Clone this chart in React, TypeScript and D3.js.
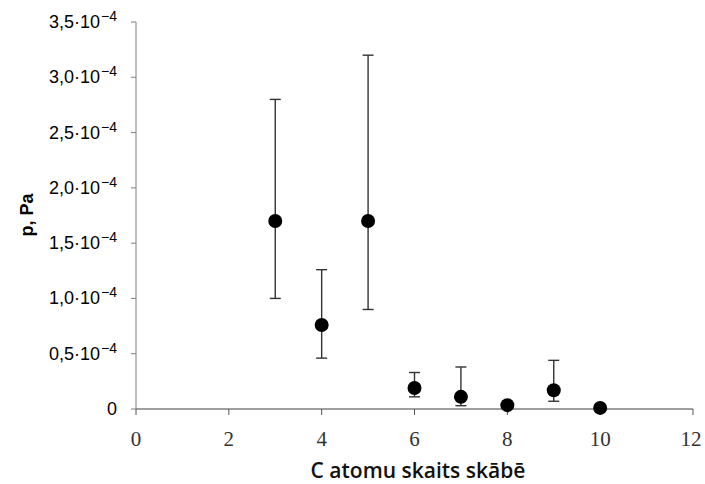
import React, { useEffect, useRef } from "react";
import * as d3 from "d3";

// C atomu skaits, spiediens un kļūdu robežas (Pa)
const carbons = [3, 4, 5, 6, 7, 8, 9, 10];
const pressure = [1.7e-4, 0.76e-4, 1.7e-4, 0.19e-4, 0.11e-4, 0.035e-4, 0.17e-4, 0.01e-4];
const errHigh = [2.8e-4, 1.26e-4, 3.2e-4, 0.33e-4, 0.38e-4, 0.035e-4, 0.44e-4, 0.01e-4];
const errLow = [1.0e-4, 0.46e-4, 0.9e-4, 0.11e-4, 0.03e-4, 0.035e-4, 0.07e-4, 0.01e-4];

const xTicks = [0, 2, 4, 6, 8, 10, 12];
const yTicks = [0, 0.5e-4, 1.0e-4, 1.5e-4, 2.0e-4, 2.5e-4, 3.0e-4, 3.5e-4];
const yTickLabels = ["0", "0,5", "1,0", "1,5", "2,0", "2,5", "3,0", "3,5"];

const App = () => {
  const svgRef = useRef<SVGSVGElement>(null);

  useEffect(() => {
    const svg = d3.select(svgRef.current);
    svg.selectAll("*").remove();

    const x = d3.scaleLinear().domain([0, 12]).range([136, 693]);
    const y = d3.scaleLinear().domain([0, 3.5e-4]).range([409, 22]);
    const axisColor = "#7f7f7f";

    // y ass
    svg.append("line")
      .attr("x1", x(0)).attr("x2", x(0))
      .attr("y1", y(0)).attr("y2", y(3.5e-4))
      .attr("stroke", axisColor).attr("stroke-width", 1);
    yTicks.forEach((t, i) => {
      svg.append("line")
        .attr("x1", x(0) - 5).attr("x2", x(0))
        .attr("y1", y(t)).attr("y2", y(t))
        .attr("stroke", axisColor);
      const txt = svg.append("text")
        .attr("x", 117)
        .attr("y", y(t) + 6)
        .attr("text-anchor", "end")
        .style("font-family", "Liberation Sans, Arial, sans-serif")
        .style("font-size", "18px")
        .attr("fill", "#000");
      if (t === 0) {
        txt.text("0");
      } else {
        txt.append("tspan").text(yTickLabels[i] + "·10");
        txt.append("tspan").attr("dy", -7).attr("dx", 1).style("font-size", "14px").text("−4");
      }
    });

    // x ass
    svg.append("line")
      .attr("x1", x(0)).attr("x2", x(12))
      .attr("y1", y(0)).attr("y2", y(0))
      .attr("stroke", axisColor).attr("stroke-width", 1.5);
    xTicks.forEach((t) => {
      svg.append("line")
        .attr("x1", x(t)).attr("x2", x(t))
        .attr("y1", y(0)).attr("y2", y(0) + 6)
        .attr("stroke", "#555");
      svg.append("text")
        .attr("x", x(t) - (t === 12 ? 2 : 0))
        .attr("y", 446)
        .attr("text-anchor", "middle")
        .style("font-family", "Liberation Serif, serif")
        .style("font-size", "21px")
        .attr("fill", "#333")
        .text(t);
    });

    // kļūdu joslas
    carbons.forEach((c, i) => {
      if (errHigh[i] === errLow[i]) return;
      const g = svg.append("g").attr("stroke", "#333").attr("stroke-width", 1.4);
      g.append("line")
        .attr("x1", x(c)).attr("x2", x(c))
        .attr("y1", y(errHigh[i])).attr("y2", y(errLow[i]));
      [errHigh[i], errLow[i]].forEach((v) => {
        g.append("line")
          .attr("x1", x(c) - 5.5).attr("x2", x(c) + 5.5)
          .attr("y1", y(v)).attr("y2", y(v));
      });
    });

    // punkti
    svg.selectAll("circle.pt")
      .data(carbons)
      .enter()
      .append("circle")
      .attr("class", "pt")
      .attr("cx", (d) => x(d))
      .attr("cy", (_, i) => y(pressure[i]))
      .attr("r", 7)
      .attr("fill", "#000");

    // ass nosaukumi
    svg.append("text")
      .attr("transform", `translate(33,215) rotate(-90)`)
      .attr("text-anchor", "middle")
      .style("font-family", "Liberation Sans, Arial, sans-serif")
      .style("font-size", "18px")
      .style("font-weight", "bold")
      .text("p, Pa");

    svg.append("text")
      .attr("x", 418)
      .attr("y", 478)
      .attr("text-anchor", "middle")
      .style("font-family", "Open Sans, sans-serif")
      .style("font-size", "21px")
      .style("font-weight", "600")
      .attr("fill", "#111")
      .text("C atomu skaits skābē");
  }, []);

  return (
    <div style={{ position: "fixed", left: 0, top: 0, width: 705, height: 484, overflow: "hidden" }}>
      <svg ref={svgRef} width={705} height={484} style={{ display: "block", background: "#fff" }}></svg>
    </div>
  );
};

export default App;
